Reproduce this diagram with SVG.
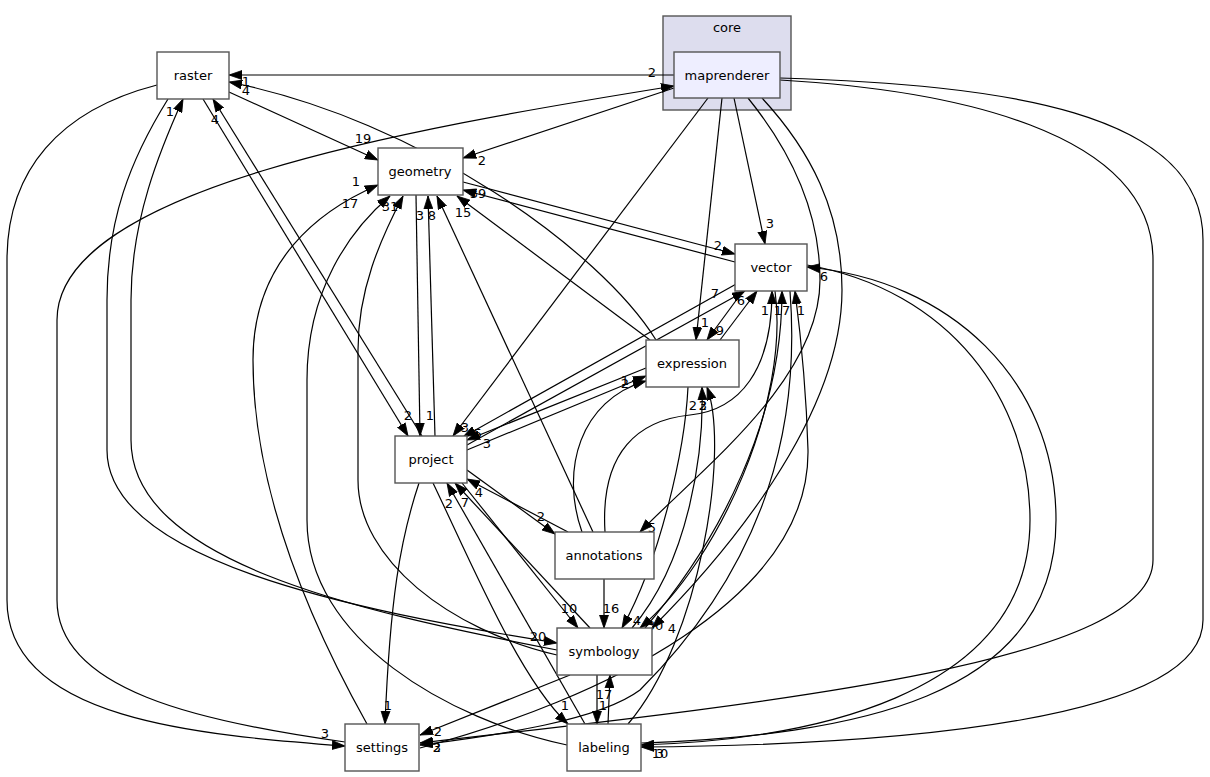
<svg xmlns="http://www.w3.org/2000/svg" width="1210" height="777" viewBox="0 0 1210 777">
<defs>
<marker id="ah" markerWidth="14" markerHeight="10" refX="13" refY="5" orient="auto" markerUnits="userSpaceOnUse"><path d="M0,0.5 L13,5 L0,9.5 z" fill="#000" stroke="#000" stroke-width="0.8"/></marker>
<style>
.n rect{fill:#fff;stroke:#555;stroke-width:1.4}
.n text{font-family:"DejaVu Sans",sans-serif;font-size:13px;text-anchor:middle;fill:#000}
.e path{fill:none;stroke:#000;stroke-width:1.2;marker-end:url(#ah)}
.e text{font-family:"DejaVu Sans",sans-serif;font-size:13px;text-anchor:middle;fill:#000}
</style>
</defs>
<rect width="1210" height="777" fill="#fff"/>
<g id="cluster_core">
<rect x="663" y="16" width="128" height="94" fill="#ddddee" stroke="#555" stroke-width="1.4"/>
<text x="727" y="32" font-family="DejaVu Sans,sans-serif" font-size="13" text-anchor="middle">core</text>
</g>
<g id="edges" class="e">
<path d="M674,75 L229,75"/>
<path d="M345,742 C200,722 57,690 57,600 L57,320 C57,190 400,130 674,86"/>
<path d="M157,85 C60,110 7,170 7,260 L7,600 C7,720 200,735 345,746"/>
<path d="M229,92 L378,160"/>
<path d="M168,99 C130,160 107,220 107,300 L107,450 C107,560 350,610 557,643"/>
<path d="M557,650 C350,610 131,560 131,440 L131,300 C131,220 160,150 183,99"/>
<path d="M203,99 L408,436"/>
<path d="M422,436 L213,99"/>
<path d="M367,724 C320,640 253,500 253,360 C253,260 320,210 378,185"/>
<path d="M567,745 C450,720 307,640 307,520 L307,380 C307,290 350,230 390,196"/>
<path d="M557,655 C450,630 358,560 358,480 L358,350 C358,290 380,240 403,196"/>
<path d="M674,88 L463,158"/>
<path d="M708,98 L453,436"/>
<path d="M722,98 L696,340"/>
<path d="M734,98 L765,244"/>
<path d="M748,98 C790,150 820,210 820,280 C820,380 700,470 640,532"/>
<path d="M762,98 C810,150 842,210 842,290 C842,420 720,560 652,628"/>
<path d="M780,80 C950,90 1153,130 1153,260 L1153,560 C1153,660 800,700 420,743"/>
<path d="M780,78 C1000,85 1203,110 1203,240 L1203,620 C1203,720 900,745 641,747"/>
<path d="M656,340 C600,250 420,120 229,82"/>
<path d="M463,182 L735,254"/>
<path d="M735,262 L463,190"/>
<path d="M650,340 L457,196"/>
<path d="M416,195 L420,436"/>
<path d="M435,436 L428,196"/>
<path d="M593,532 L437,196"/>
<path d="M738,283 L463,437"/>
<path d="M467,445 L745,291"/>
<path d="M646,368 L467,440"/>
<path d="M467,450 L646,376"/>
<path d="M582,532 C560,470 580,400 646,381"/>
<path d="M743,291 L707,340"/>
<path d="M720,340 L757,291"/>
<path d="M467,470 L555,534"/>
<path d="M568,532 L467,479"/>
<path d="M604,579 L604,628"/>
<path d="M605,532 C600,450 640,420 690,415 C740,410 772,370 772,291"/>
<path d="M462,483 L578,628"/>
<path d="M590,628 L455,483"/>
<path d="M585,724 L447,483"/>
<path d="M433,483 C470,560 520,680 568,724"/>
<path d="M419,483 C400,540 390,600 385,724"/>
<path d="M570,675 L420,735"/>
<path d="M597,675 L597,724"/>
<path d="M608,724 L610,675"/>
<path d="M688,387 C685,450 660,560 622,628"/>
<path d="M632,628 C690,560 704,450 702,387"/>
<path d="M628,724 C700,640 730,450 707,387"/>
<path d="M775,291 C790,400 720,560 640,628"/>
<path d="M645,628 C720,540 782,420 782,291"/>
<path d="M420,748 C600,700 810,600 808,450 C806,380 800,330 795,291"/>
<path d="M790,291 C800,420 770,560 640,690 C600,720 500,735 420,745"/>
<path d="M807,265 C950,290 1030,400 1030,520 C1030,700 800,740 641,745"/>
<path d="M641,743 C850,735 1056,700 1056,520 C1056,380 950,280 807,267"/>
<text x="652" y="77">2</text>
<text x="246" y="86">1</text>
<text x="246" y="95">4</text>
<text x="325" y="738">3</text>
<text x="363" y="143">19</text>
<text x="538" y="641">20</text>
<text x="170" y="116">1</text>
<text x="408" y="420">2</text>
<text x="215" y="124">4</text>
<text x="356" y="186">1</text>
<text x="350" y="208">17</text>
<text x="390" y="211">31</text>
<text x="482" y="165">2</text>
<text x="465" y="432">3</text>
<text x="705" y="327">1</text>
<text x="770" y="228">3</text>
<text x="652" y="532">5</text>
<text x="672" y="633">4</text>
<text x="437" y="752">3</text>
<text x="660" y="758">3</text>
<text x="478" y="198">39</text>
<text x="718" y="250">2</text>
<text x="463" y="217">15</text>
<text x="430" y="420">1</text>
<text x="420" y="220">3</text>
<text x="432" y="220">8</text>
<text x="478" y="438">5</text>
<text x="715" y="298">7</text>
<text x="487" y="448">3</text>
<text x="625" y="388">2</text>
<text x="625" y="385">1</text>
<text x="720" y="335">9</text>
<text x="741" y="305">6</text>
<text x="541" y="521">2</text>
<text x="479" y="497">4</text>
<text x="611" y="613">16</text>
<text x="765" y="315">1</text>
<text x="569" y="613">10</text>
<text x="465" y="507">7</text>
<text x="449" y="508">2</text>
<text x="565" y="710">1</text>
<text x="388" y="710">1</text>
<text x="438" y="736">2</text>
<text x="603" y="710">1</text>
<text x="604" y="699">17</text>
<text x="637" y="625">4</text>
<text x="693" y="410">2</text>
<text x="703" y="410">2</text>
<text x="703" y="410">3</text>
<text x="655" y="630">30</text>
<text x="782" y="315">17</text>
<text x="801" y="315">1</text>
<text x="437" y="752">2</text>
<text x="660" y="758">10</text>
<text x="824" y="281">6</text>
</g>
<g id="maprenderer" class="n"><rect x="674" y="52" width="106" height="46" style="fill:#eeeeff"/><text x="727" y="80">maprenderer</text></g>
<g id="raster" class="n"><rect x="157" y="52" width="72" height="47"/><text x="193" y="80">raster</text></g>
<g id="geometry" class="n"><rect x="378" y="148" width="85" height="47"/><text x="420" y="176">geometry</text></g>
<g id="vector" class="n"><rect x="735" y="244" width="72" height="47"/><text x="771" y="272">vector</text></g>
<g id="expression" class="n"><rect x="646" y="340" width="93" height="47"/><text x="692" y="368">expression</text></g>
<g id="project" class="n"><rect x="395" y="436" width="72" height="47"/><text x="431" y="464">project</text></g>
<g id="annotations" class="n"><rect x="555" y="532" width="99" height="47"/><text x="604" y="560">annotations</text></g>
<g id="symbology" class="n"><rect x="557" y="628" width="95" height="47"/><text x="604" y="656">symbology</text></g>
<g id="settings" class="n"><rect x="345" y="724" width="74" height="47"/><text x="382" y="752">settings</text></g>
<g id="labeling" class="n"><rect x="567" y="724" width="74" height="47"/><text x="604" y="752">labeling</text></g>
</svg>
